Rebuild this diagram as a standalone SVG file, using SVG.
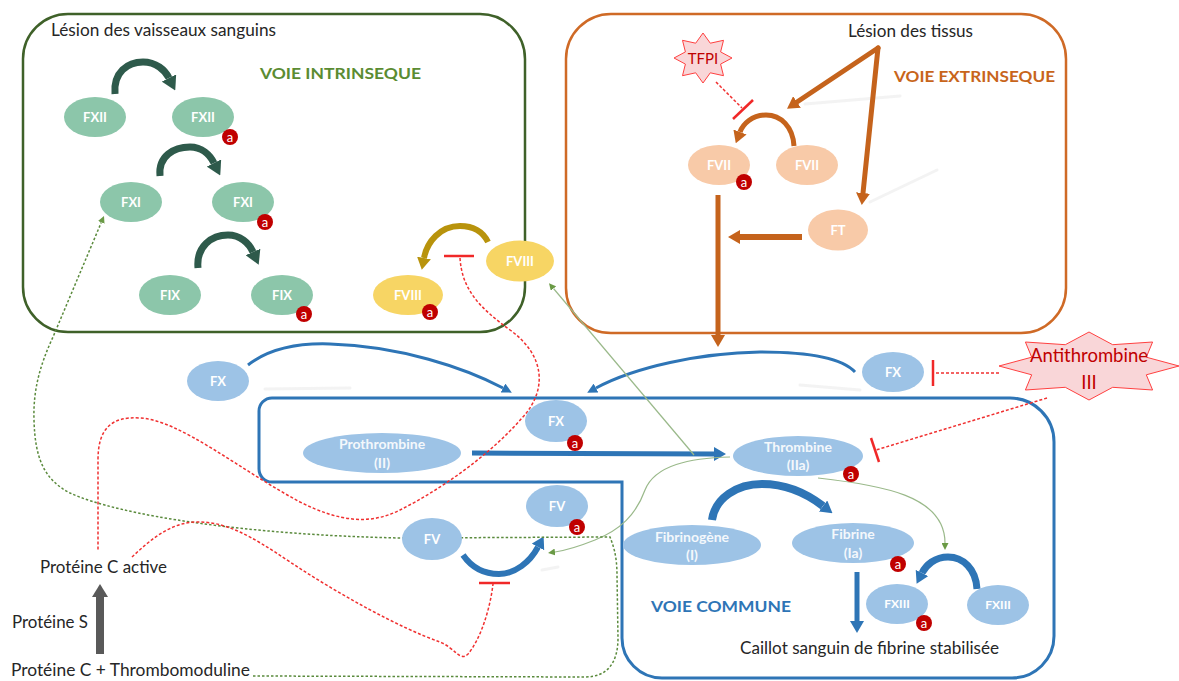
<svg xmlns="http://www.w3.org/2000/svg" width="1179" height="681" viewBox="0 0 1179 681">
<style>
text{font-family:Lato,"Open Sans","Liberation Sans",sans-serif}
.lbl{font-size:17px;fill:#262626}
.nt{font-size:13px;font-weight:bold;fill:#ffffff;text-anchor:middle}
.nb{font-size:14px;font-weight:bold;fill:#f4f8fc;text-anchor:middle}
.teal{fill:#8cc6aa}
.yel{fill:#f7d564}
.pch{fill:#f8caa8}
.blu{fill:#9dc3e6}
.bdg circle{fill:#c00000}
.bdg text{font-size:13px;fill:#fff;text-anchor:middle}
.red{fill:none;stroke:#f03030;stroke-width:1.5;stroke-dasharray:3 2}
.tbar{stroke:#f02828;stroke-width:2.5;fill:none}
.gdot{fill:none;stroke:#5a8a3c;stroke-width:1.5;stroke-dasharray:2.5 2}
.gthin{fill:none;stroke:#9ab98a;stroke-width:1.2}
.shadow{fill:none;stroke:#e4e4e4;stroke-width:3;stroke-linecap:round;opacity:.45}
</style>
<defs>
<marker id="hDG" markerUnits="userSpaceOnUse" viewBox="0 0 14 16" markerWidth="14" markerHeight="16" refX="0" refY="8" orient="auto"><path d="M0,0 L14,8 L0,16 z" fill="#2e5a4b"/></marker>
<marker id="hGold" markerUnits="userSpaceOnUse" viewBox="0 0 12 14" markerWidth="12" markerHeight="14" refX="0" refY="7" orient="auto"><path d="M0,0 L12,7 L0,14 z" fill="#b8930c"/></marker>
<marker id="hOr" markerUnits="userSpaceOnUse" viewBox="0 0 12 14" markerWidth="12" markerHeight="14" refX="0" refY="7" orient="auto"><path d="M0,0 L12,7 L0,14 z" fill="#c5631c"/></marker>
<marker id="hBlue" markerUnits="userSpaceOnUse" viewBox="0 0 12 14" markerWidth="12" markerHeight="14" refX="0" refY="7" orient="auto"><path d="M0,0 L12,7 L0,14 z" fill="#2e75b6"/></marker>
<marker id="hBlueS" markerUnits="userSpaceOnUse" viewBox="0 0 10 10" markerWidth="10" markerHeight="10" refX="0" refY="5" orient="auto"><path d="M0,0 L10,5 L0,10 z" fill="#2e75b6"/></marker>
<marker id="hGr" markerUnits="userSpaceOnUse" viewBox="0 0 7 7" markerWidth="7" markerHeight="7" refX="0" refY="3.5" orient="auto"><path d="M0,0 L7,3.5 L0,7 z" fill="#6a9a45"/></marker>
</defs>

<g id="boxes">
<rect id="box-intrinseque" x="23" y="14" width="502" height="318" rx="45" fill="none" stroke="#3f6129" stroke-width="2.5"/>
<rect id="box-extrinseque" x="566" y="14" width="500" height="319" rx="45" fill="none" stroke="#cf6a26" stroke-width="2.5"/>
<path id="box-commune" d="M272,398 L1010,398 A44,44 0 0 1 1054,442 L1054,636 A42,42 0 0 1 1012,678 L662,678 A40,40 0 0 1 622,638 L622,482 L272,482 A13,13 0 0 1 259,469 L259,411 A13,13 0 0 1 272,398 Z" fill="none" stroke="#2e75b6" stroke-width="3"/>
</g>

<g id="shadows">
<path class="shadow" d="M805,104 L900,96"/>
<path class="shadow" d="M870,202 L937,170"/>
<path class="shadow" d="M265,389 L350,388"/>
<path class="shadow" d="M800,385 L860,390"/>
<path class="shadow" d="M542,570 L558,567"/>
</g>

<g id="connectors">
<path d="M115,94 C113,72 128,62 143,62 C156,62 165,70 169,78" fill="none" stroke="#2e5a4b" stroke-width="7" marker-end="url(#hDG)"/>
<path d="M160,176 C158,156 174,147 190,147 C202,147 210,155 214,163" fill="none" stroke="#2e5a4b" stroke-width="7" marker-end="url(#hDG)"/>
<path d="M198,268 C196,246 212,235 228,235 C240,235 249,243 253,252" fill="none" stroke="#2e5a4b" stroke-width="7" marker-end="url(#hDG)"/>
<path d="M488,242 C482,230 472,226 460,226 C440,226 427,242 424,258" fill="none" stroke="#b8930c" stroke-width="6" marker-end="url(#hGold)"/>
<path d="M794,146 C793,127 781,115 766,115 C752,115 743,124 740,132" fill="none" stroke="#c5631c" stroke-width="5" marker-end="url(#hOr)"/>
<path d="M878,48 L797,102" fill="none" stroke="#c5631c" stroke-width="5" stroke-linecap="round" marker-end="url(#hOr)"/>
<path d="M878,48 L863,193" fill="none" stroke="#c5631c" stroke-width="5" stroke-linecap="round" marker-end="url(#hOr)"/>
<path d="M802,237 L740,237" fill="none" stroke="#c5631c" stroke-width="6" marker-end="url(#hOr)"/>
<path d="M718,195 L718,335" fill="none" stroke="#c5631c" stroke-width="5" marker-end="url(#hOr)"/>
<path d="M248,365 C270,348 300,343 330,344 C400,346 465,368 503,388" fill="none" stroke="#2e75b6" stroke-width="3" marker-end="url(#hBlueS)"/>
<path d="M855,372 C840,356 800,352 760,352 C700,353 635,367 596,388" fill="none" stroke="#2e75b6" stroke-width="3" marker-end="url(#hBlueS)"/>
<path d="M472,453 L714,454" fill="none" stroke="#2e75b6" stroke-width="5" marker-end="url(#hBlue)"/>
<path d="M712,520 C715,498 737,484 762,484 C790,484 810,496 823,506" fill="none" stroke="#2e75b6" stroke-width="8" marker-end="url(#hBlue)"/>
<path d="M857,572 L857,621" fill="none" stroke="#2e75b6" stroke-width="5" marker-end="url(#hBlue)"/>
<path d="M977,589 C976,569 963,557 948,557 C935,557 926,565 922,573" fill="none" stroke="#2e75b6" stroke-width="7" marker-end="url(#hBlue)"/>
<path d="M463,555 C472,568 485,574 499,574 C515,574 530,562 538,547" fill="none" stroke="#2e75b6" stroke-width="6" marker-end="url(#hBlue)"/>
<path class="gthin" d="M694,455 L553.5,288.5" marker-end="url(#hGr)"/>
<path class="gthin" d="M730,457 C690,458 655,465 645,490 C636,515 620,530 595,540 C580,546 568,550 555,552" marker-end="url(#hGr)"/>
<path class="gthin" d="M818,478 C880,485 945,495 945,543" marker-end="url(#hGr)"/>
<path class="gdot" d="M253,676 L585,677 C608,677 618,662 618,638 L617,575 C617,555 613,545 610,537 L400,538 C250,535 120,516 70,493 C45,480 35,460 34,420 C33,390 40,365 53,337 L101.3,222.4" marker-end="url(#hGr)"/>
<path class="red" d="M460,258 C462,290 480,308 510,330 C545,355 548,390 522,418 C490,455 440,490 400,510 C370,525 340,522 300,502 C240,470 180,420 140,418 C110,416 98,430 98,460 L98,550"/>
<path class="red" d="M132,557 C150,540 170,523 195,522 C225,521 250,535 290,562 C340,595 400,628 440,642 C455,648 460,662 468,654 C480,640 490,610 493,584"/>
<path class="tbar" d="M444,256 L474,256"/>
<path class="tbar" d="M479,583 L510,583"/>
<path class="red" d="M716,82 L742,108"/>
<path class="tbar" d="M733,119 L753,100"/>
<path class="red" d="M999,373 L934,373"/>
<path class="tbar" d="M933,360 L933,386"/>
<path class="red" d="M1047,398 L876,450"/>
<path class="tbar" d="M871,438 L879,462"/>
<path d="M100,654 L100,596" fill="none" stroke="#595959" stroke-width="8"/>
<path d="M92,597 L100,584 L108,597 z" fill="#595959"/>
</g>

<g id="labels">
<text class="lbl" x="51" y="36" textLength="225" lengthAdjust="spacingAndGlyphs">Lésion des vaisseaux sanguins</text>
<text x="260" y="79" textLength="161" lengthAdjust="spacingAndGlyphs" style="font-size:16px;font-weight:bold;fill:#5b8c32">VOIE INTRINSEQUE</text>
<text class="lbl" x="848" y="37" textLength="125" lengthAdjust="spacingAndGlyphs">Lésion des tissus</text>
<text x="894" y="82" textLength="161" lengthAdjust="spacingAndGlyphs" style="font-size:16px;font-weight:bold;fill:#c8651b">VOIE EXTRINSEQUE</text>
<text x="651" y="612" textLength="140" lengthAdjust="spacingAndGlyphs" style="font-size:16px;font-weight:bold;fill:#2e75b6">VOIE COMMUNE</text>
<text class="lbl" x="740" y="654" textLength="259" lengthAdjust="spacingAndGlyphs">Caillot sanguin de fibrine stabilisée</text>
<text class="lbl" x="40" y="573" textLength="127" lengthAdjust="spacingAndGlyphs">Protéine C active</text>
<text class="lbl" x="12" y="628" textLength="76" lengthAdjust="spacingAndGlyphs">Protéine S</text>
<text class="lbl" x="11" y="676" textLength="239" lengthAdjust="spacingAndGlyphs">Protéine C + Thrombomoduline</text>
</g>

<g id="node-TFPI">
<polygon points="703,33 710.3,43.2 723.5,40.3 720.6,51.9 732,58 720.6,64.1 723.5,75.7 710.3,72.8 703,83 695.7,72.8 682.5,75.7 685.4,64.1 674,58 685.4,51.9 682.5,40.3 695.7,43.2" fill="#f9d6d8" stroke="#ff4040" stroke-width="1"/>
<text x="703" y="64" style="font-size:15px;fill:#c00000;text-anchor:middle">TFPI</text>
</g>
<g id="node-AT3">
<polygon points="1089,332 1112.7,344.7 1152.6,342 1146.3,357.2 1179,366 1146.3,374.8 1152.6,390 1112.7,387.3 1089,400 1065.3,387.3 1025.4,390 1031.7,374.8 999,366 1031.7,357.2 1025.4,342 1065.3,344.7" fill="#f9d6d8" stroke="#ff4040" stroke-width="1"/>
<text x="1089" y="362" style="font-size:18.5px;fill:#c00000;text-anchor:middle">Antithrombine</text>
<text x="1089" y="389" style="font-size:18.5px;fill:#c00000;text-anchor:middle">III</text>
</g>

<g id="node-FXII"><ellipse class="teal" cx="95" cy="117" rx="31" ry="20"/><text class="nt" x="95" y="122">FXII</text></g>
<g id="node-FXIIa"><ellipse class="teal" cx="203" cy="117" rx="31" ry="20"/><text class="nt" x="203" y="122">FXII</text><g class="bdg"><circle cx="230" cy="137" r="8"/><text x="230" y="141.5">a</text></g></g>
<g id="node-FXI"><ellipse class="teal" cx="131" cy="202" rx="31" ry="20"/><text class="nt" x="131" y="207">FXI</text></g>
<g id="node-FXIa"><ellipse class="teal" cx="243" cy="202" rx="31" ry="20"/><text class="nt" x="243" y="207">FXI</text><g class="bdg"><circle cx="265" cy="222" r="8"/><text x="265" y="226.5">a</text></g></g>
<g id="node-FIX"><ellipse class="teal" cx="170" cy="295" rx="31" ry="20"/><text class="nt" x="170" y="300">FIX</text></g>
<g id="node-FIXa"><ellipse class="teal" cx="282" cy="295" rx="31" ry="20"/><text class="nt" x="282" y="300">FIX</text><g class="bdg"><circle cx="304" cy="314" r="8"/><text x="304" y="318.5">a</text></g></g>
<g id="node-FVIII"><ellipse class="yel" cx="520" cy="261" rx="34" ry="20.5"/><text class="nt" x="520" y="266">FVIII</text></g>
<g id="node-FVIIIa"><ellipse class="yel" cx="408" cy="295" rx="35" ry="20"/><text class="nt" x="408" y="300">FVIII</text><g class="bdg"><circle cx="430" cy="312" r="8"/><text x="430" y="316.5">a</text></g></g>

<g id="node-FVIIa"><ellipse class="pch" cx="719" cy="165" rx="31" ry="20"/><text class="nt" x="719" y="170">FVII</text><g class="bdg"><circle cx="744" cy="182" r="8"/><text x="744" y="186.5">a</text></g></g>
<g id="node-FVII"><ellipse class="pch" cx="807" cy="165" rx="31" ry="20"/><text class="nt" x="807" y="170">FVII</text></g>
<g id="node-FT"><ellipse class="pch" cx="838" cy="230" rx="30" ry="20.5"/><text class="nt" x="838" y="235">FT</text></g>

<g id="node-FX-left"><ellipse class="blu" cx="218" cy="381" rx="31" ry="20"/><text class="nt" x="218" y="386">FX</text></g>
<g id="node-FX-right"><ellipse class="blu" cx="893" cy="372" rx="31" ry="20"/><text class="nt" x="893" y="377">FX</text></g>
<g id="node-FXa"><ellipse class="blu" cx="556" cy="421" rx="31" ry="21"/><text class="nt" x="556" y="426">FX</text><g class="bdg"><circle cx="575" cy="443" r="8"/><text x="575" y="447.5">a</text></g></g>
<g id="node-Prothrombine"><ellipse class="blu" cx="382" cy="453" rx="79" ry="20"/><text class="nb" x="382" y="449">Prothrombine</text><text class="nb" x="382" y="468">(II)</text></g>
<g id="node-Thrombine"><ellipse class="blu" cx="798" cy="456" rx="65" ry="20"/><text class="nb" x="798" y="452">Thrombine</text><text class="nb" x="798" y="470">(IIa)</text><g class="bdg"><circle cx="851" cy="474" r="8"/><text x="851" y="478.5">a</text></g></g>
<g id="node-FV"><ellipse class="blu" cx="432" cy="539" rx="30" ry="21"/><text class="nt" x="432" y="544">FV</text></g>
<g id="node-FVa"><ellipse class="blu" cx="557" cy="506" rx="31" ry="21"/><text class="nt" x="557" y="511">FV</text><g class="bdg"><circle cx="577" cy="527" r="8"/><text x="577" y="531.5">a</text></g></g>
<g id="node-Fibrinogene"><ellipse class="blu" cx="692" cy="545" rx="69" ry="20"/><text class="nb" x="692" y="542">Fibrinogène</text><text class="nb" x="692" y="560">(I)</text></g>
<g id="node-Fibrine"><ellipse class="blu" cx="853" cy="543" rx="61" ry="20"/><text class="nb" x="853" y="539">Fibrine</text><text class="nb" x="853" y="558">(Ia)</text><g class="bdg"><circle cx="898" cy="564" r="8"/><text x="898" y="568.5">a</text></g></g>
<g id="node-FXIIIa"><ellipse class="blu" cx="897" cy="604" rx="31" ry="20"/><text class="nt" x="897" y="608" style="font-size:12px">FXIII</text><g class="bdg"><circle cx="924" cy="623" r="8"/><text x="924" y="627.5">a</text></g></g>
<g id="node-FXIII"><ellipse class="blu" cx="998" cy="605" rx="31" ry="20"/><text class="nt" x="998" y="609" style="font-size:12px">FXIII</text></g>
</svg>
